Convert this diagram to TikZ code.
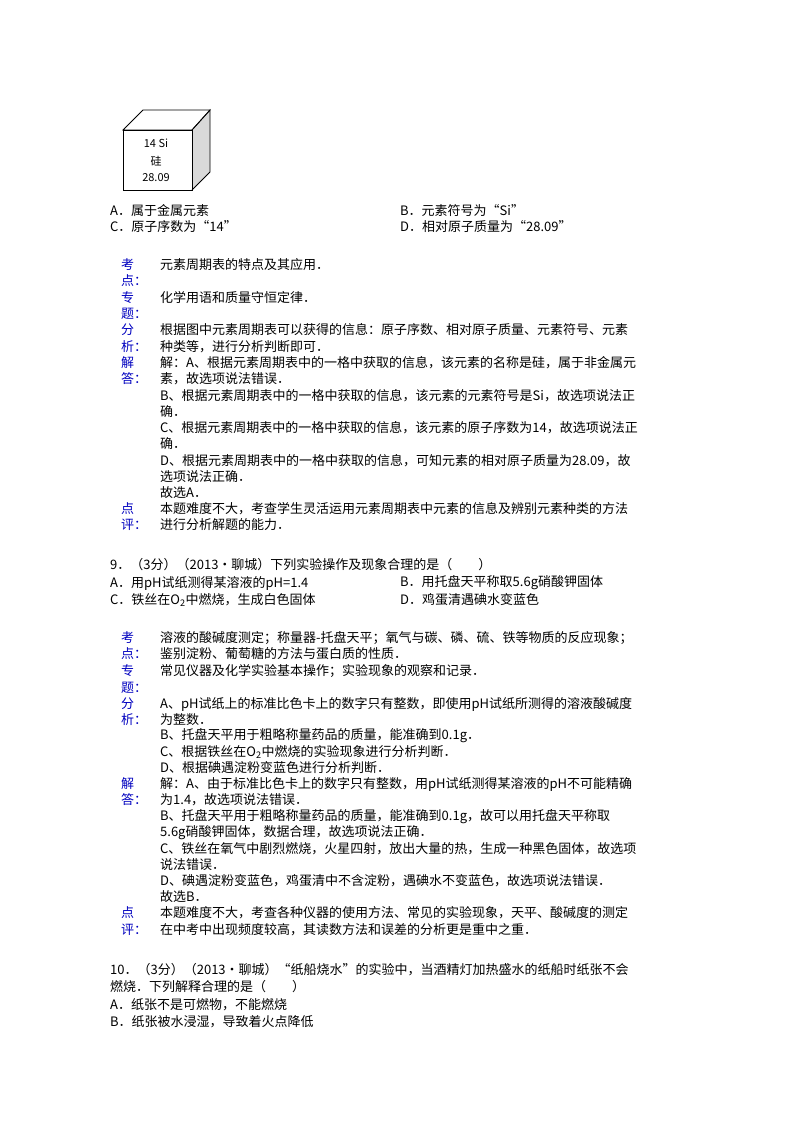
\documentclass[tikz,border=0pt]{standalone}
\usepackage{fontspec}
\setmainfont{Noto Sans CJK SC}
\begin{document}
\begin{tikzpicture}[x=1pt,y=-1pt,
  txt/.style={anchor=west,inner sep=0pt,font=\fontsize{13}{13}\selectfont},
  lab/.style={txt,text=blue!75!black}]
\useasboundingbox[fill=white] (0,0) rectangle (800,1132);
% cube
\fill[gray!30] (192,130) -- (210,110) -- (210,172) -- (192,190) -- cycle;
\draw[line width=0.8pt] (123,130) -- (143,110) -- (210,110) -- (192,130) -- cycle;
\draw[line width=0.8pt] (192,130) -- (210,110) -- (210,172) -- (192,190);
\draw[line width=0.8pt] (123,130) rectangle (192,190);
\node[inner sep=0pt,font=\fontsize{11}{11}\selectfont] (c1) at (156,143) {14 Si};
\node[inner sep=0pt,font=\fontsize{11}{11}\selectfont] (c2) at (156,161) {硅};
\node[inner sep=0pt,font=\fontsize{11}{11}\selectfont] (c3) at (156,178) {28.09};
\foreach \y/\t in {211/{A．属于金属元素},227/{C．原子序数为“14”},565/{9．（3分）（2013•聊城）下列实验操作及现象合理的是（　　）},583/{A．用pH试纸测得某溶液的pH=1.4},600/{C．铁丝在O\textsubscript{2}中燃烧，生成白色固体},970/{10．（3分）（2013•聊城）“纸船烧水”的实验中，当酒精灯加热盛水的纸船时纸张不会},987/{燃烧．下列解释合理的是（　　）},1005/{A．纸张不是可燃物，不能燃烧},1022/{B．纸张被水浸湿，导致着火点降低}}
  \node[txt] at (110,\y) {\t};
\foreach \y/\t in {211/{B．元素符号为“Si”},227/{D．相对原子质量为“28.09”},583/{B．用托盘天平称取5.6g硝酸钾固体},600/{D．鸡蛋清遇碘水变蓝色}}
  \node[txt] at (400,\y) {\t};
\foreach \y/\t in {265/考,281/点：,298/专,314/题：,330/分,347/析：,363/解,379/答：,509/点,525/评：,
  638/考,654/点：,671/专,688/题：,704/分,720/析：,784/解,800/答：,913/点,930/评：}
  \node[lab] at (121,\y) {\t};
\foreach \y/\t in {
265/{元素周期表的特点及其应用．},
298/{化学用语和质量守恒定律．},
330/{根据图中元素周期表可以获得的信息：原子序数、相对原子质量、元素符号、元素},
347/{种类等，进行分析判断即可．},
363/{解：A、根据元素周期表中的一格中获取的信息，该元素的名称是硅，属于非金属元},
379/{素，故选项说法错误．},
396/{B、根据元素周期表中的一格中获取的信息，该元素的元素符号是Si，故选项说法正},
412/{确．},
428/{C、根据元素周期表中的一格中获取的信息，该元素的原子序数为14，故选项说法正},
444/{确．},
461/{D、根据元素周期表中的一格中获取的信息，可知元素的相对原子质量为28.09，故},
477/{选项说法正确．},
493/{故选A．},
509/{本题难度不大，考查学生灵活运用元素周期表中元素的信息及辨别元素种类的方法},
525/{进行分析解题的能力．},
638/{溶液的酸碱度测定；称量器-托盘天平；氧气与碳、磷、硫、铁等物质的反应现象；},
654/{鉴别淀粉、葡萄糖的方法与蛋白质的性质．},
671/{常见仪器及化学实验基本操作；实验现象的观察和记录．},
704/{A、pH试纸上的标准比色卡上的数字只有整数，即使用pH试纸所测得的溶液酸碱度},
720/{为整数．},
736/{B、托盘天平用于粗略称量药品的质量，能准确到0.1g．},
752/{C、根据铁丝在O\textsubscript{2}中燃烧的实验现象进行分析判断．},
768/{D、根据碘遇淀粉变蓝色进行分析判断．},
784/{解：A、由于标准比色卡上的数字只有整数，用pH试纸测得某溶液的pH不可能精确},
800/{为1.4，故选项说法错误．},
817/{B、托盘天平用于粗略称量药品的质量，能准确到0.1g，故可以用托盘天平称取},
833/{5.6g硝酸钾固体，数据合理，故选项说法正确．},
849/{C、铁丝在氧气中剧烈燃烧，火星四射，放出大量的热，生成一种黑色固体，故选项},
865/{说法错误．},
881/{D、碘遇淀粉变蓝色，鸡蛋清中不含淀粉，遇碘水不变蓝色，故选项说法错误．},
897/{故选B．},
913/{本题难度不大，考查各种仪器的使用方法、常见的实验现象，天平、酸碱度的测定},
930/{在中考中出现频度较高，其读数方法和误差的分析更是重中之重．}}
  \node[txt] at (160,\y) {\t};
\end{tikzpicture}
\end{document}
